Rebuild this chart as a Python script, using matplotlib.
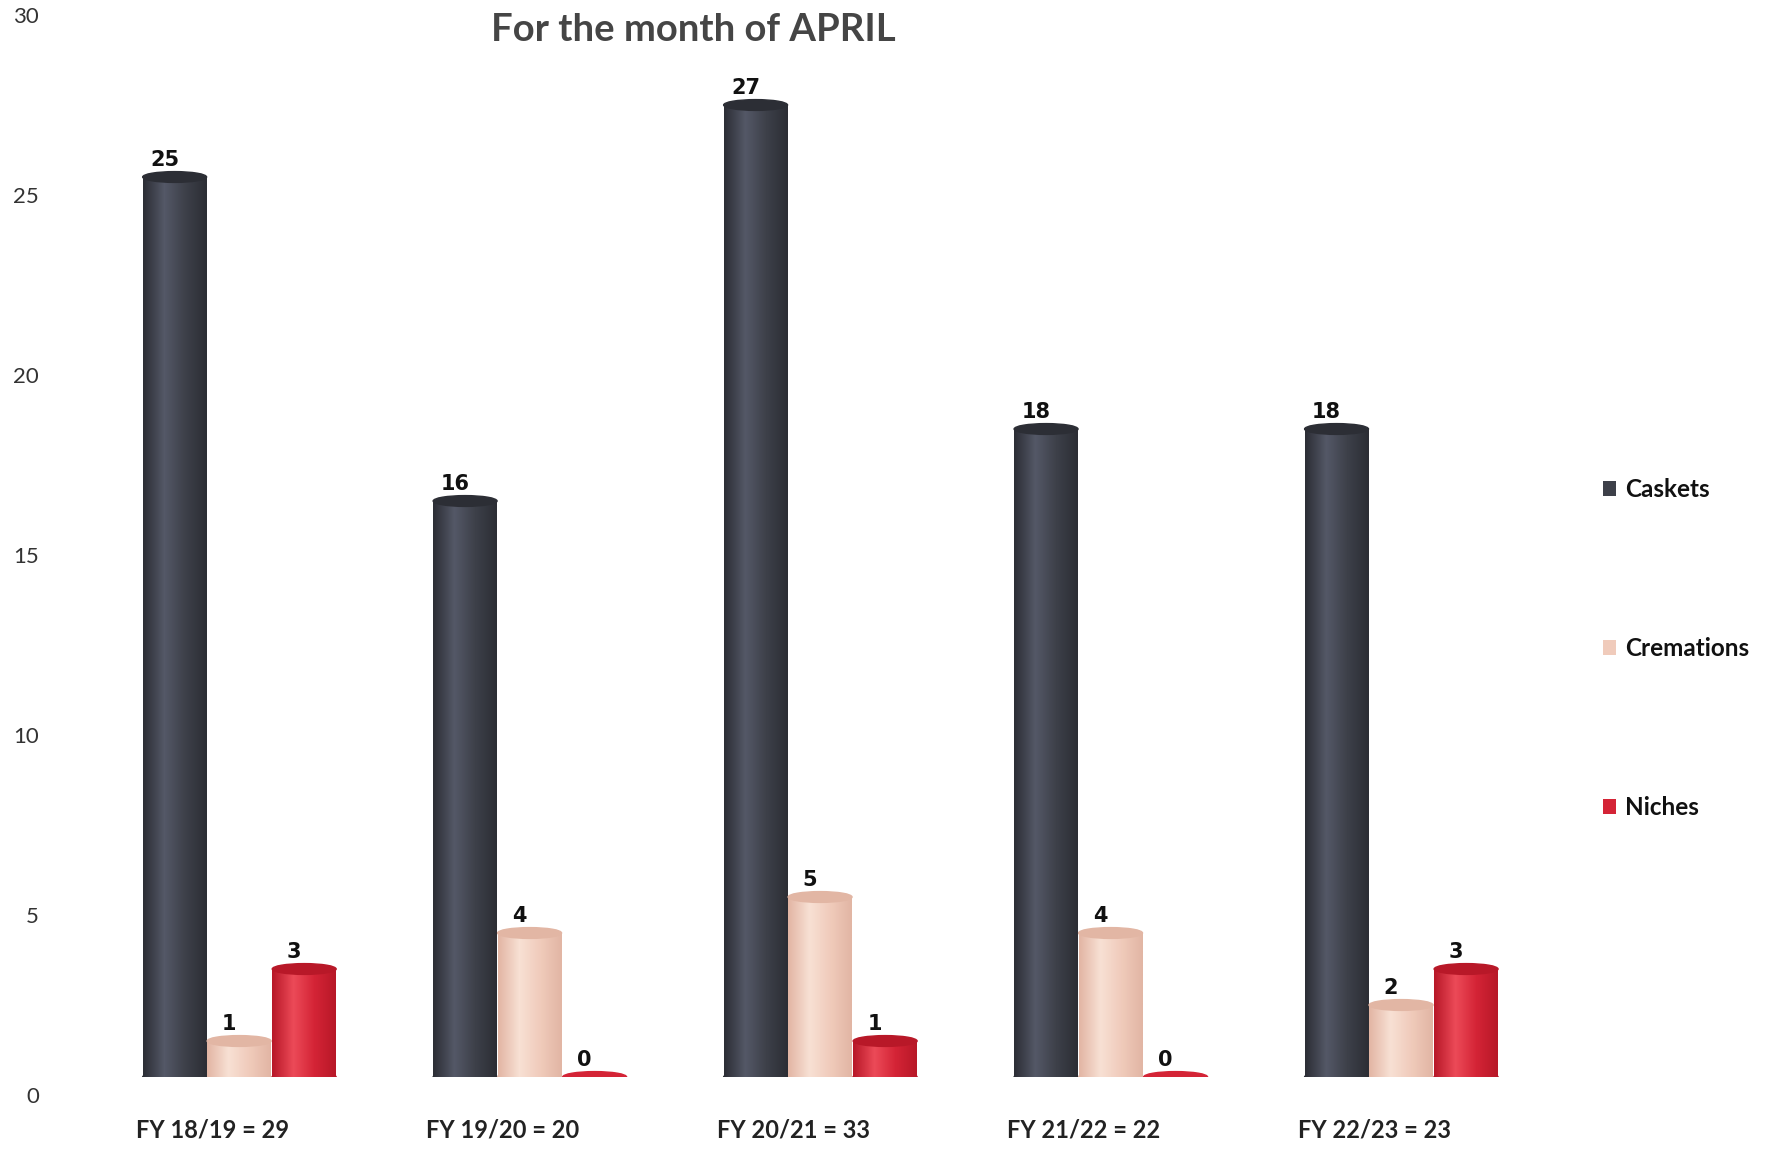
import numpy as np
import matplotlib
matplotlib.use("Agg")
import matplotlib.pyplot as plt
from matplotlib.patches import Ellipse
from matplotlib.colors import LinearSegmentedColormap
from matplotlib.transforms import ScaledTranslation

years = ["FY 18/19 = 29", "FY 19/20 = 20", "FY 20/21 = 33", "FY 21/22 = 22", "FY 22/23 = 23"]
caskets = [25, 16, 27, 18, 18]
cremations = [1, 4, 5, 4, 2]
niches = [3, 0, 1, 0, 3]

series = [
    ("Caskets", caskets, "#3d4049", "#2c2e35", "#545867"),
    ("Cremations", cremations, "#f0cbbb", "#e2b6a4", "#f8e0d4"),
    ("Niches", niches, "#d42436", "#b81828", "#ec4a58"),
]

plt.rcParams['font.family'] = ['Lato', 'DejaVu Sans']

fig = plt.figure(figsize=(17.69, 11.49), dpi=100)
ax = fig.add_axes([75 / 1769, 72 / 1149, 1455 / 1769, 1080 / 1149])

x = np.arange(len(years))
w = 0.22
eh = 0.3
offsets = [-0.222, 0.0, 0.224]

for (name, vals, col, edge, light), off in zip(series, offsets):
    cm = LinearSegmentedColormap.from_list(name, [edge, light, col, edge])
    grad = np.linspace(0, 1, 64).reshape(1, -1)
    bars = ax.bar(x + off, vals, w, color=col, label=name, zorder=3)
    for b, v in zip(bars, vals):
        cx = b.get_x() + w / 2
        # rounded base
        ax.add_patch(Ellipse((cx, 0), w, eh, color=edge if v > 0 else col, zorder=2))
        if v > 0:
            im = ax.imshow(grad, extent=[b.get_x(), b.get_x() + w, 0, v], aspect='auto',
                           cmap=cm, zorder=3)
            im.set_clip_path(b)
            ax.add_patch(Ellipse((cx, v), w, eh, color=edge, zorder=4))
        ax.text(cx - 0.035, v + eh / 2 + 0.05, str(v), ha='center', va='bottom',
                fontsize=15, fontweight='bold', family='DejaVu Sans', color='#111111', zorder=5)

ax.set_xlim(-0.565, 4.444)
ax.set_ylim(0, 30)
ax.set_yticks(range(0, 31, 5))
ax.set_xticks(x - 0.093)
ax.set_xticklabels(years, fontsize=17, fontweight='bold', color='#222222')
ax.tick_params(axis='x', length=0, pad=30)
ax.tick_params(axis='y', length=0, pad=26, labelsize=16, labelcolor='#333333')
for lab in ax.get_yticklabels():
    lab.set_transform(lab.get_transform() + ScaledTranslation(0, -0.18, fig.dpi_scale_trans))
for s in ax.spines.values():
    s.set_visible(False)

fig.text(693 / 1769, 1 - 30 / 1149, "For the month of APRIL", ha='center', va='center',
         fontsize=27.5, fontweight='bold', color='#454545')

leg = fig.legend(loc='upper left', bbox_to_anchor=(1581 / 1769, 1 - 456 / 1149),
                 frameon=False, handlelength=0.55, handleheight=0.55, handletextpad=0.35,
                 labelspacing=5.6, prop={'size': 17.5, 'weight': 'bold'})
for t in leg.get_texts():
    t.set_color('#111111')

fig.savefig("out.png", dpi=100, facecolor='white')
